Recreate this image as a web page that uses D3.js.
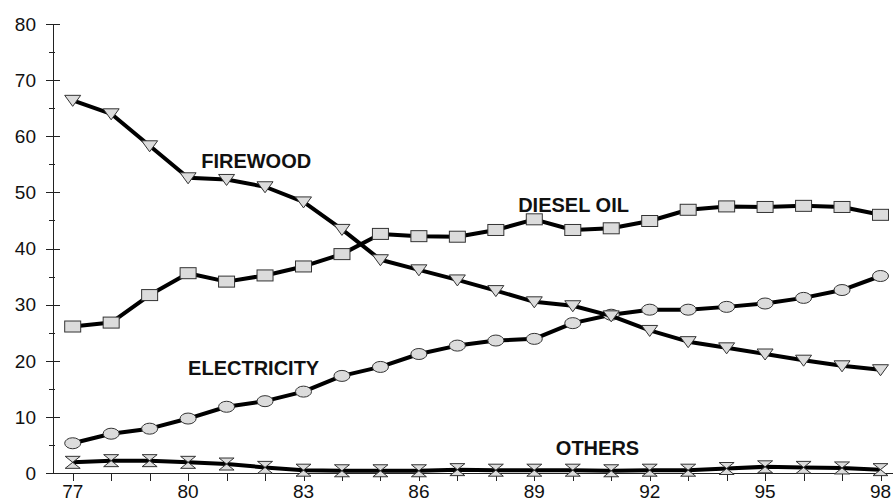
<!DOCTYPE html>
<html>
<head>
<meta charset="utf-8">
<script src="https://cdn.jsdelivr.net/npm/d3@7"></script>
<style>
  body { margin: 0; background: #fff; }
  svg { display: block; font-family: "Liberation Sans", Arial, sans-serif; }
</style>
</head>
<body>
<div id="container"></div>
<script>
/* CONSTANTS AND GLOBALS */
const width = 895,
  height = 501;

// years 77..98
const years = [77, 78, 79, 80, 81, 82, 83, 84, 85, 86, 87, 88, 89, 90, 91, 92, 93, 94, 95, 96, 97, 98];

const firewood = [66.4, 64.0, 58.3, 52.6, 52.3, 51.0, 48.3, 43.4, 38.0, 36.2, 34.4, 32.5, 30.5, 29.8,
  28.0, 25.4, 23.4, 22.3, 21.2, 20.1, 19.1, 18.4];
const diesel = [26.1, 26.8, 31.7, 35.6, 34.1, 35.2, 36.8, 39.0, 42.6, 42.2, 42.1, 43.3, 45.2, 43.3,
  43.6, 44.9, 46.9, 47.5, 47.4, 47.6, 47.4, 46.0];
const electricity = [5.3, 7.0, 7.9, 9.7, 11.8, 12.8, 14.5, 17.3, 18.9, 21.2, 22.7, 23.6, 23.9, 26.7,
  28.2, 29.1, 29.1, 29.6, 30.2, 31.2, 32.6, 35.1];
const others = [1.9, 2.2, 2.2, 1.9, 1.6, 1.0, 0.5, 0.4, 0.4, 0.4, 0.6, 0.5, 0.5, 0.5,
  0.4, 0.5, 0.5, 0.8, 1.1, 1.0, 0.9, 0.6];

const yTicks = [0, 10, 20, 30, 40, 50, 60, 70, 80];
const yMinorTicks = [5, 15, 25, 35, 45, 55, 65, 75];
const xLabelTicks = [77, 80, 83, 86, 89, 92, 95, 98];

// series label: text, anchor year, anchor value (left/baseline)
const labelNames = ["FIREWOOD", "DIESEL OIL", "ELECTRICITY", "OTHERS"];
const labelYears = [80.34, 88.58, 80.0, 89.56];
const labelValues = [54.4, 46.5, 17.5, 3.2];

/* SCALES */
const xScale = d3.scaleLinear()
  .domain([77, 98])
  .range([72.7, 880.5]);

const yScale = d3.scaleLinear()
  .domain([0, 80])
  .range([473, 24]);

/* SVG */
const svg = d3.select("#container")
  .append("svg")
  .attr("width", width)
  .attr("height", height);

const axisColor = "#222";

// y axis
svg.append("line")
  .attr("x1", 53.5).attr("x2", 53.5)
  .attr("y1", yScale(80)).attr("y2", yScale(0))
  .attr("stroke", axisColor);

svg.selectAll(".ymajor")
  .data(yTicks)
  .join("line")
  .attr("x1", 46).attr("x2", 60)
  .attr("y1", d => Math.round(yScale(d)) + 0.5)
  .attr("y2", d => Math.round(yScale(d)) + 0.5)
  .attr("stroke", axisColor);

svg.selectAll(".yminor")
  .data(yMinorTicks)
  .join("line")
  .attr("x1", 49).attr("x2", 55)
  .attr("y1", d => Math.round(yScale(d)) + 0.5)
  .attr("y2", d => Math.round(yScale(d)) + 0.5)
  .attr("stroke", axisColor);

svg.selectAll(".ylabel")
  .data(yTicks)
  .join("text")
  .attr("x", 36)
  .attr("y", d => yScale(d))
  .attr("dy", "0.36em")
  .attr("text-anchor", "end")
  .attr("font-size", 19)
  .attr("fill", "#111")
  .text(d => d);

// x axis
svg.append("line")
  .attr("x1", 53).attr("x2", 893)
  .attr("y1", 473.5).attr("y2", 473.5)
  .attr("stroke", axisColor);

svg.selectAll(".xtick")
  .data(years)
  .join("line")
  .attr("x1", d => Math.round(xScale(d)) + 0.5)
  .attr("x2", d => Math.round(xScale(d)) + 0.5)
  .attr("y1", 473.5).attr("y2", 481)
  .attr("stroke", axisColor);

svg.selectAll(".xlabel")
  .data(xLabelTicks)
  .join("text")
  .attr("x", d => xScale(d))
  .attr("y", 498)
  .attr("text-anchor", "middle")
  .attr("font-size", 19)
  .attr("fill", "#111")
  .text(d => d);

/* LINES */
const fill = "#dcdcdc",
  mstroke = "#333";

const line = d3.line()
  .x(d => xScale(d[0]))
  .y(d => yScale(d[1]));

const series = [
  { name: "others", values: others, marker: "hourglass" },
  { name: "electricity", values: electricity, marker: "circle" },
  { name: "firewood", values: firewood, marker: "triangle" },
  { name: "diesel", values: diesel, marker: "square" }
];

series.forEach(s => {
  const pts = years.map((y, i) => [y, s.values[i]]);
  svg.append("path")
    .datum(pts)
    .attr("fill", "none")
    .attr("stroke", "#000")
    .attr("stroke-width", 4)
    .attr("stroke-linejoin", "round")
    .attr("d", line);

  const g = svg.append("g");
  const m = g.selectAll("g")
    .data(pts)
    .join("g")
    .attr("transform", d => `translate(${xScale(d[0])},${yScale(d[1])})`);

  if (s.marker === "square") {
    m.append("rect")
      .attr("x", -8).attr("y", -5.5)
      .attr("width", 16).attr("height", 11);
  } else if (s.marker === "circle") {
    m.append("ellipse")
      .attr("rx", 8).attr("ry", 5.5);
  } else if (s.marker === "triangle") {
    m.append("path")
      .attr("d", "M-8,-5 L8,-5 L0,6 Z");
  } else {
    m.append("path")
      .attr("d", "M-7.5,-6 L7.5,-6 L-7.5,6 L7.5,6 Z");
  }
  m.selectAll("*")
    .attr("fill", fill)
    .attr("stroke", mstroke)
    .attr("stroke-width", 1);
});

/* SERIES LABELS */
svg.selectAll(".slabel")
  .data(labelNames)
  .join("text")
  .attr("x", (d, i) => xScale(labelYears[i]))
  .attr("y", (d, i) => yScale(labelValues[i]))
  .attr("font-size", 20)
  .attr("font-weight", "bold")
  .attr("fill", "#111")
  .text(d => d);
</script>
</body>
</html>
